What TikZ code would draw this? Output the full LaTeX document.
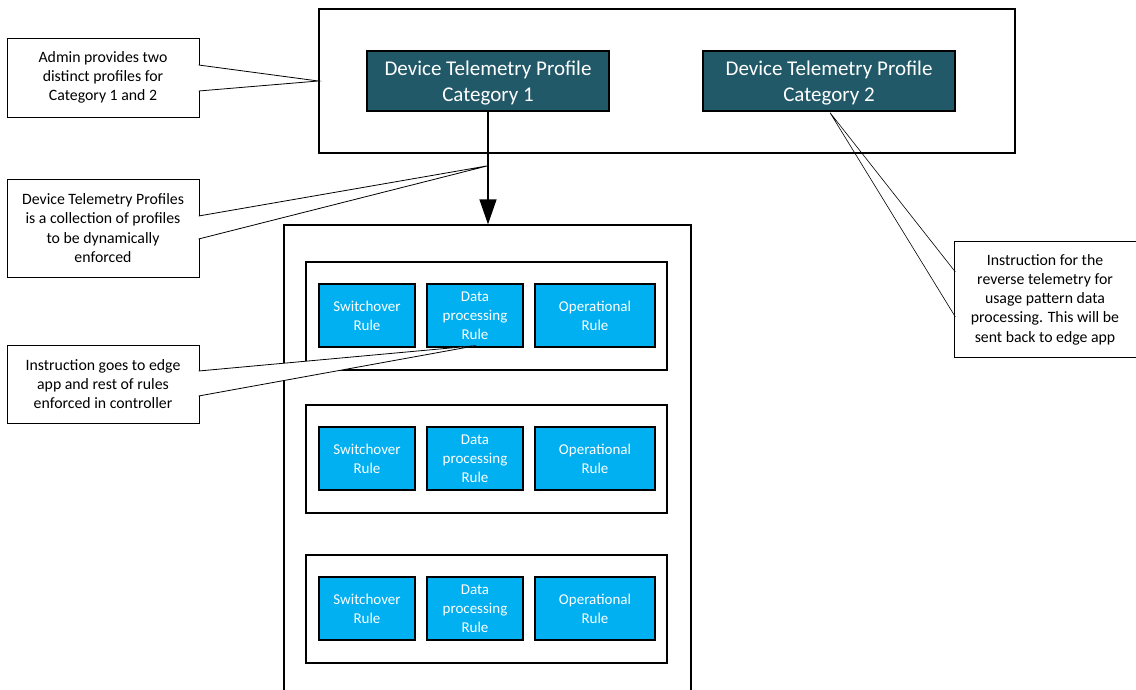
\documentclass[tikz,border=0pt]{standalone}
\usepackage{fontspec}
\setmainfont{Carlito}
\usetikzlibrary{calc,arrows.meta}
\definecolor{profteal}{RGB}{33,89,104}
\definecolor{ruleblue}{RGB}{0,176,240}
\begin{document}
\begin{tikzpicture}[x=1pt,y=-1pt,
  frame/.style={draw=black,line width=1.3pt,fill=white,inner sep=0pt},
  profile/.style={draw=black,line width=1.3pt,fill=profteal,minimum height=60pt,inner sep=0pt},
  proftext/.style={text=white,font=\fontsize{21}{26}\selectfont,align=center,inner sep=0pt},
  rulebox/.style={draw=black,line width=1.3pt,fill=ruleblue,text=white,
    font=\fontsize{15}{19}\selectfont,align=center,minimum height=63pt,inner sep=0pt},
  note/.style={draw=black,line width=0.8pt,fill=white,
    font=\fontsize{15.8}{19.2}\selectfont,align=center,inner sep=0pt},
  wedge/.style={draw=black,line width=0.8pt},
  flow/.style={line width=1.3pt,-{Triangle[length=25pt,width=17pt]}}
]
\useasboundingbox (0,0) rectangle (1136,689);

% main container and groups
\node[frame,minimum width=407pt,minimum height=480pt] (main) at (487.5,465) {};
\foreach \i/\y in {1/316,2/459,3/609}{
  \node[frame,minimum width=361pt,minimum height=108pt] (grp\i) at (486.5,\y) {};
  \node[rulebox,minimum width=96pt] (sw\i) at (367,\y-0.5) {Switchover\\Rule};
  \node[rulebox,minimum width=96pt] (dp\i) at (475,\y-0.5) {Data\\processing\\Rule};
  \node[rulebox,minimum width=120pt] (op\i) at (595,\y-0.5) {Operational\\Rule};
}

% callout 4 (pointer drawn under the top box)
\node[note,minimum width=182pt,minimum height=116pt] (n4) at (1045,299.5)
  {Instruction for the\\reverse telemetry for\\usage pattern data\\processing. This will be\\sent back to edge app};
\coordinate (n4a) at (955.4,272);
\coordinate (n4b) at (955.4,317);

% top box with profiles
\node[frame,minimum width=696pt,minimum height=144pt] (top) at (667,81) {};
\node[profile,minimum width=242pt] (p1) at (488,81) {};
\node[proftext] (p1t) at ($(p1.center)+(0,2.5)$) {Device Telemetry Profile\\Category 1};
\node[profile,minimum width=252pt] (p2) at (829,81) {};
\node[proftext] (p2t) at ($(p2.center)+(0,2.5)$) {Device Telemetry Profile\\Category 2};

\fill[white] ($(n4a)+(-0.2,0.5)$) rectangle ($(n4b)+(0.8,-0.5)$);
\draw[wedge,line width=0.6pt] (n4a) -- ($(p2.south)+(1,1)$) -- (n4b);

% arrow
\draw[flow] (p1.south) -- (p1.south |- main.north);
\coordinate (arrpt) at ($(p1.south)!0.48!(p1.south |- main.north)$);

% callout 1
\node[note,minimum width=192pt,minimum height=79pt] (n1) at (103,77.5)
  {Admin provides two\\distinct profiles for\\Category 1 and 2};
\coordinate (n1a) at (198.6,65);
\coordinate (n1b) at (198.6,91);
\fill[white] (n1a) -- (top.west) -- (n1b) -- cycle;
\fill[white] ($(n1a)+(-0.6,0.5)$) rectangle ($(n1b)+(0.6,-0.5)$);
\draw[wedge] (n1a) -- (top.west) -- (n1b);

% callout 2
\node[note,minimum width=192pt,minimum height=98pt] (n2) at (103,228)
  {Device Telemetry Profiles\\is a collection of profiles\\to be dynamically\\enforced};
\coordinate (n2a) at (198.6,216);
\coordinate (n2b) at (198.6,239);
\fill[white] (n2a) -- (arrpt) -- (n2b) -- cycle;
\fill[white] ($(n2a)+(-0.6,0.5)$) rectangle ($(n2b)+(0.6,-0.5)$);
\draw[wedge] (n2a) -- (arrpt) -- (n2b);

% callout 3
\node[note,minimum width=192pt,minimum height=78pt] (n3) at (103,384)
  {Instruction goes to edge\\app and rest of rules\\enforced in controller};
\coordinate (n3a) at (198.6,371);
\coordinate (n3b) at (198.6,396);
\coordinate (n3t) at ($(dp1.south)+(1,-2)$);
\fill[white] (n3a) -- (n3t) -- (n3b) -- cycle;
\fill[white] ($(n3a)+(-0.6,0.5)$) rectangle ($(n3b)+(0.6,-0.5)$);
\draw[wedge] (n3a) -- (n3t) -- (n3b);
\end{tikzpicture}
\end{document}
